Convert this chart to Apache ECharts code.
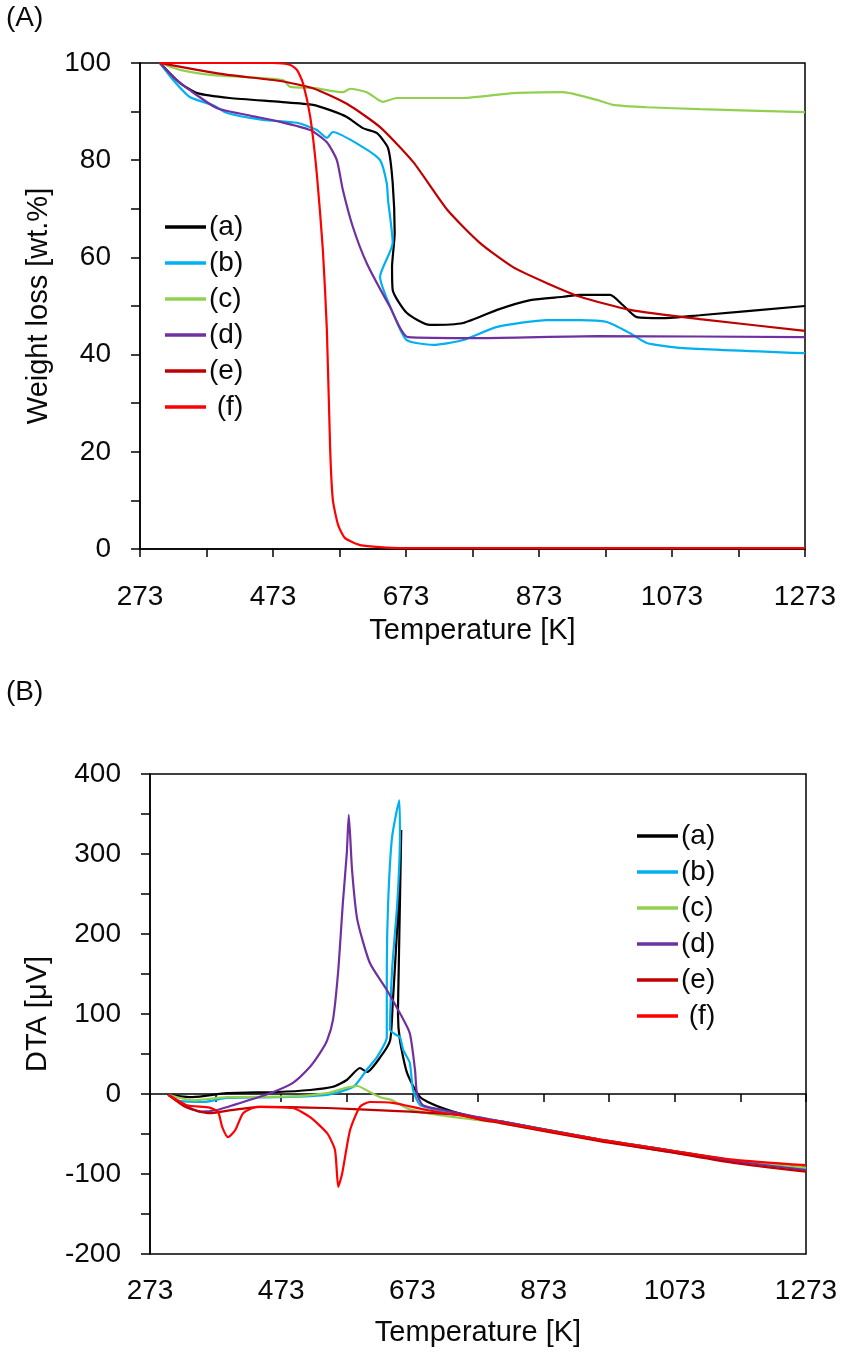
<!DOCTYPE html>
<html>
<head>
<meta charset="utf-8">
<script src="https://cdn.jsdelivr.net/npm/echarts@6/dist/echarts.min.js"></script>
<style>
  html, body { margin: 0; padding: 0; background: #fff; }
  #chart { width: 843px; height: 1357px; }
</style>
</head>
<body>
<div id="chart"></div>
<script>
var names = ['(a)', '(b)', '(c)', '(d)', '(e)', ' (f)']
var colors = ['#000000', '#00b0f0', '#92d050', '#7030a0', '#c00000', '#ff0000']

// (A) weight loss, [temperature K, wt.%]
var tgA = [[303,100],[333,95.9],[359,93.8],[408,92.8],[484,92.0],[533,91.4],[559,90.3],[584,88.9],[608,86.6],[629,85.6],[646,82.5],[653,75.3],[656,65.0],[652,58.0],[653,53.3],[674,48.6],[709,46.1],[759,46.5],[810,49.2],[860,51.2],[909,51.9],[935,52.3],[980,52.3],[999,50.2],[1020,47.7],[1060,47.5],[1115,48.1],[1273,50.0]]
var tgB = [[303,100],[323,96.5],[348,93.0],[383,91.3],[404,89.7],[458,88.3],[509,87.7],[539,86.2],[554,84.6],[563,85.8],[608,82.7],[634,80.0],[644,75.3],[646,71.8],[653,63.0],[634,56.0],[656,47.7],[674,43.0],[714,42.0],[759,43.0],[810,45.7],[885,47.1],[935,47.1],[975,46.7],[1010,44.4],[1035,42.4],[1085,41.4],[1273,40.3]]
var tgC = [[303,100],[333,98.6],[383,97.5],[434,97.1],[488,96.5],[499,95.1],[533,94.9],[578,94.0],[589,94.7],[614,94.0],[638,92.0],[659,92.8],[759,92.8],[834,93.8],[909,94.0],[960,92.4],[984,91.4],[1035,90.9],[1115,90.5],[1273,89.9]]
var tgD = [[303,100],[323,97.1],[348,94.4],[389,90.7],[434,89.3],[484,87.9],[529,86.2],[554,83.7],[569,80.0],[578,73.9],[593,66.3],[614,58.8],[649,49.8],[676,43.6],[784,43.4],[960,43.8],[1273,43.6]]
var tgE = [[303,100],[359,98.6],[408,97.5],[484,96.3],[533,94.8],[584,91.6],[634,86.8],[684,79.6],[735,69.8],[784,63.0],[834,58.0],[885,54.7],[935,51.9],[1010,49.2],[1115,47.3],[1273,44.9]]
var tgF = [[303,100],[473,100],[499,99.6],[509,98.6],[518,95.9],[529,88.9],[539,77.0],[548,61.5],[554,45.1],[559,20.4],[563,10.1],[571,4.9],[581,2.3],[604,0.8],[664,0.2],[1273,0.2]]

// (B) DTA, [temperature K, µV]
var dtaA = [[300,-1],[338,-4],[390,1],[467,2.5],[517,5],[552,9],[573,17.5],[593,32.5],[604,27.5],[624,46],[639,67],[643,113],[649,196],[654,280],[656,330],[654,240],[652,150],[651,100],[654,67],[665,26],[685,-4],[720,-18],[772,-30],[806,-34],[959,-57],[1062,-70],[1162,-83],[1273,-92]]
var dtaB = [[301,-1],[319,-9],[354,-10],[390,-5],[467,-4],[543,-1],[583,9],[604,31],[619,46],[634,71],[634,155],[636,239],[642,321],[653,367],[654,321],[650,239],[642,155],[639,80],[646,75],[654,71],[659,55],[669,39],[674,5],[685,-14],[720,-22],[772,-29],[806,-34],[959,-57],[1062,-70],[1162,-83],[1273,-93]]
var dtaC = [[301,-1],[339,-8],[390,-4],[491,-3],[543,1],[573,8],[589,10],[608,2.5],[624,-4],[643,-8],[665,-18],[695,-24],[746,-30],[806,-36],[959,-58],[1062,-71],[1162,-84],[1273,-92]]
var dtaD = [[301,-1],[319,-11],[349,-22],[375,-20],[415,-10],[456,1],[491,14],[517,34],[532,51],[543,67],[552,93],[560,155],[567,239],[573,301],[576,349],[581,280],[589,218],[608,164],[634,130],[654,101],[669,76],[677,30],[680,0],[689,-14],[720,-20],[772,-29],[806,-34],[959,-58],[1062,-72],[1162,-84],[1273,-95]]
var dtaE = [[301,-1],[329,-17],[364,-24],[390,-21],[441,-16],[543,-17.5],[643,-21],[746,-26],[776,-32],[806,-36],[959,-59],[1062,-72],[1162,-86],[1273,-97]]
var dtaF = [[301,-1],[329,-14],[364,-17],[377,-23],[383,-41],[392,-54],[403,-45],[415,-24],[436,-16],[491,-17.5],[517,-29],[543,-49],[555,-70],[560,-116],[566,-99],[578,-45],[593,-16],[608,-10],[643,-11],[695,-20],[776,-31],[806,-35],[959,-57],[1062,-70],[1162,-82],[1273,-89]]

var tempTicks = [273, 1273, 100]
var tgTicks = [0, 100, 10]
var dtaTicks = [-200, 400, 50]

var font = 'Liberation Sans, Arial, sans-serif'
var txt = '#0a0a0a'
var fs = 28

function xAxisFor(gridIndex, labelMargin, nameGap) {
  return {
    gridIndex: gridIndex,
    type: 'value',
    min: tempTicks[0],
    max: tempTicks[1],
    interval: tempTicks[2],
    name: 'Temperature [K]',
    nameLocation: 'middle',
    nameGap: nameGap,
    nameTextStyle: {color: txt, fontSize: 29, fontFamily: font},
    axisLine: {lineStyle: {color: '#000', width: 1.5}},
    axisTick: {show: true, length: 8, lineStyle: {color: '#000', width: 1.5}},
    axisLabel: {
      color: txt,
      fontSize: fs,
      fontFamily: font,
      margin: labelMargin,
      formatter: function(v) {
        return (v - 273) % 200 === 0 ? v : ''
      }
    },
    splitLine: {show: false}
  }
}

function yAxisFor(gridIndex, ticks, step, name, nameGap) {
  return {
    gridIndex: gridIndex,
    type: 'value',
    min: ticks[0],
    max: ticks[1],
    interval: ticks[2],
    name: name,
    nameLocation: 'middle',
    nameGap: nameGap,
    nameTextStyle: {color: txt, fontSize: 29, fontFamily: font},
    axisLine: {lineStyle: {color: '#000', width: 1.5}},
    axisTick: {show: true, length: 9, lineStyle: {color: '#000', width: 1.5}},
    axisLabel: {
      color: txt,
      fontSize: fs,
      fontFamily: font,
      margin: 29,
      formatter: function(v) {
        return v % step === 0 ? v : ''
      }
    },
    splitLine: {show: false}
  }
}

var tgData = [tgA, tgB, tgC, tgD, tgE, tgF]
var dtaData = [dtaA, dtaB, dtaC, dtaD, dtaE, dtaF]
var seriesData = []
tgData.forEach(function(d, i) {
  seriesData.push({
    name: names[i], type: 'line', xAxisIndex: 0, yAxisIndex: 0,
    data: d, showSymbol: false, smooth: 0.2,
    lineStyle: {color: colors[i], width: 2.2}, itemStyle: {color: colors[i]}
  })
})
dtaData.forEach(function(d, i) {
  seriesData.push({
    name: names[i], type: 'line', xAxisIndex: 1, yAxisIndex: 1,
    data: d, showSymbol: false, smooth: 0.2,
    lineStyle: {color: colors[i], width: 2.2}, itemStyle: {color: colors[i]}
  })
})

function legendAt(left, top) {
  return {
    orient: 'vertical',
    left: left,
    top: top,
    padding: 0,
    itemGap: 8,
    itemWidth: 41,
    itemHeight: 3.5,
    icon: 'rect',
    data: names,
    textStyle: {color: txt, fontSize: fs, fontFamily: font, padding: [0, 0, 0, -2]}
  }
}

var myChart = echarts.init(document.getElementById('chart'))
var option = {
  backgroundColor: '#fff',
  animation: false,
  title: [
    {text: '(A)', left: 6, top: 4, padding: 0, textStyle: {color: txt, fontSize: fs, fontWeight: 'normal', fontFamily: font}},
    {text: '(B)', left: 6, top: 678, padding: 0, textStyle: {color: txt, fontSize: fs, fontWeight: 'normal', fontFamily: font}}
  ],
  grid: [
    {left: 140, right: 38, top: 63, height: 486, show: true, borderColor: '#000', borderWidth: 1.5},
    {left: 150, right: 37, top: 774, height: 480, show: true, borderColor: '#000', borderWidth: 1.5}
  ],
  legend: [legendAt(165, 213), legendAt(637, 822)],
  xAxis: [xAxisFor(0, 34, 67), xAxisFor(1, 23, 64)],
  yAxis: [
    yAxisFor(0, tgTicks, 20, 'Weight loss [wt.%]', 87),
    yAxisFor(1, dtaTicks, 100, 'DTA [μV]', 98)
  ],
  series: seriesData
}
myChart.setOption(option)
</script>
</body>
</html>
